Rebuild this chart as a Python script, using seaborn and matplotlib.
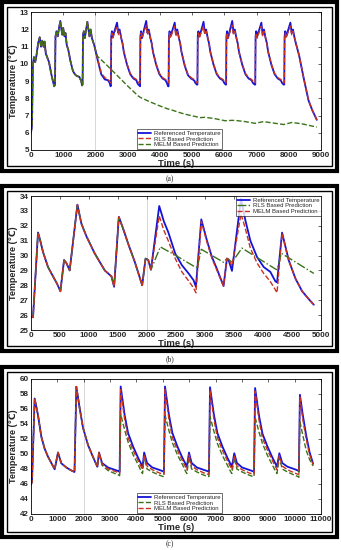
import matplotlib
matplotlib.use('Agg')
import matplotlib.pyplot as plt
from matplotlib.patches import Rectangle
import seaborn as sns

# ---------------- panel (a) ----------------
# shared start (all three curves coincide up to ~1960 s)
a_head_time = [0, 30, 60, 90, 130, 170, 220, 270, 310, 350, 390, 420, 460, 520, 560, 620, 680, 720,
               745, 760, 790, 830, 870, 910, 945, 970, 1000, 1040, 1070, 1110, 1160, 1220, 1300, 1360,
               1420, 1500, 1560, 1585, 1600, 1615, 1640, 1670, 1710, 1750, 1790, 1815, 1850, 1890, 1960]
a_head_temp = [6.0, 6.4, 10.0, 10.4, 10.1, 10.5, 11.2, 11.55, 11.0, 11.35, 11.0, 11.3, 10.6, 10.3, 10.1, 9.5, 9.0, 8.7,
               8.8, 11.6, 11.9, 11.6, 12.1, 12.5, 12.0, 11.7, 12.1, 11.6, 11.8, 11.1, 10.8, 10.2, 9.6, 9.4,
               9.3, 9.25, 9.0, 8.75, 8.8, 11.7, 11.9, 11.5, 12.0, 12.45, 11.9, 11.6, 12.0, 11.5, 11.1]

a_tail_time = [2060, 2180, 2290, 2390, 2440, 2470,
               2480, 2490, 2510, 2540, 2590, 2670, 2710, 2750, 2800, 2840, 2880, 2980, 3080, 3180, 3270, 3310, 3360,
               3385, 3395, 3415, 3445, 3495, 3575, 3615, 3655, 3705, 3745, 3785, 3885, 3985, 4085, 4175, 4215, 4255,
               4270, 4280, 4300, 4330, 4380, 4460, 4500, 4540, 4590, 4630, 4670, 4770, 4870, 4970, 5060, 5100, 5145,
               5165, 5175, 5195, 5225, 5275, 5355, 5395, 5435, 5485, 5525, 5565, 5665, 5765, 5865, 5955, 5995, 6040,
               6055, 6065, 6085, 6115, 6165, 6245, 6285, 6325, 6375, 6415, 6455, 6555, 6655, 6755, 6845, 6885, 6940,
               6960, 6970, 6990, 7020, 7070, 7150, 7190, 7230, 7280, 7320, 7360, 7460, 7560, 7660, 7750, 7790, 7840,
               7860, 7870, 7890, 7920, 7970, 8050, 8090, 8130, 8180, 8220, 8320, 8460, 8610, 8720, 8870]
a_ref_tail = [10.3, 9.4, 9.1, 9.05, 8.9, 8.7,
              8.75, 11.6, 11.9, 11.6, 11.9, 12.4, 11.8, 12.0, 11.5, 11.2, 10.7, 9.95, 9.4, 9.15, 9.05, 8.85, 8.75,
              8.7, 11.6, 11.9, 11.5, 11.9, 12.5, 11.8, 12.0, 11.5, 11.2, 10.7, 9.95, 9.4, 9.15, 9.05, 8.9, 8.7,
              8.7, 11.6, 11.9, 11.6, 11.9, 12.4, 11.7, 12.0, 11.5, 11.2, 10.7, 9.9, 9.35, 9.15, 9.05, 8.9, 8.8,
              8.8, 11.6, 11.9, 11.6, 11.9, 12.45, 11.8, 12.0, 11.5, 11.2, 10.7, 9.95, 9.4, 9.15, 9.05, 8.9, 8.8,
              8.8, 11.6, 11.9, 11.5, 11.9, 12.5, 11.8, 12.0, 11.5, 11.2, 10.7, 9.95, 9.4, 9.15, 9.05, 8.9, 8.8,
              8.8, 11.6, 11.9, 11.6, 11.9, 12.4, 11.7, 12.0, 11.5, 11.2, 10.7, 9.95, 9.4, 9.15, 9.05, 8.9, 8.8,
              8.8, 11.6, 11.9, 11.6, 11.9, 12.4, 11.8, 12.0, 11.5, 11.2, 10.5, 9.2, 7.9, 7.35, 6.75]
a_rls_tail = [10.35, 9.5, 9.2, 9.1, 9.0, 8.9,
              8.9, 11.5, 11.8, 11.5, 11.8, 12.2, 11.7, 11.9, 11.5, 11.2, 10.7, 10.0, 9.45, 9.2, 9.1, 9.0, 8.9,
              8.9, 11.5, 11.8, 11.5, 11.8, 12.25, 11.7, 11.9, 11.5, 11.2, 10.7, 10.0, 9.45, 9.2, 9.1, 9.0, 8.9,
              8.9, 11.5, 11.8, 11.5, 11.8, 12.2, 11.6, 11.9, 11.5, 11.2, 10.7, 9.95, 9.4, 9.2, 9.1, 9.0, 8.9,
              8.9, 11.5, 11.8, 11.5, 11.8, 12.2, 11.7, 11.9, 11.5, 11.2, 10.7, 10.0, 9.45, 9.2, 9.1, 9.0, 8.9,
              8.9, 11.5, 11.8, 11.5, 11.8, 12.25, 11.7, 11.9, 11.5, 11.2, 10.7, 10.0, 9.45, 9.2, 9.1, 9.0, 8.9,
              8.9, 11.5, 11.8, 11.5, 11.8, 12.2, 11.6, 11.9, 11.5, 11.2, 10.7, 10.0, 9.45, 9.2, 9.1, 9.0, 8.9,
              8.9, 11.5, 11.8, 11.5, 11.8, 12.2, 11.7, 11.9, 11.5, 11.2, 10.5, 9.2, 7.9, 7.35, 6.75]
a_melm_tail_time = [2060, 2390, 2700, 3010, 3320, 3400, 3630, 3945, 4255, 4330, 4565, 4780, 5090, 5250, 5400,
                    5710, 6025, 6200, 6335, 6645, 6955, 7215, 7580, 7840, 8100, 8410, 8870]
a_melm_tail_temp = [10.45, 9.86, 9.28, 8.7, 8.15, 8.05, 7.85, 7.6, 7.38, 7.35, 7.2, 7.08, 6.95, 6.88, 6.9,
                    6.82, 6.7, 6.72, 6.72, 6.65, 6.55, 6.65, 6.55, 6.48, 6.6, 6.52, 6.33]

# ---------------- panel (b) ----------------
b_time = [0, 35, 121, 160, 207, 293, 380, 450, 507, 570, 610, 667, 800, 869, 955, 1100, 1272, 1387, 1433, 1514,
          1589, 1675, 1790, 1917, 1975, 2022, 2068, 2211, 2290, 2366, 2487, 2602, 2717, 2803, 2843, 2936, 3034,
          3120, 3206, 3292, 3320, 3378, 3407, 3465, 3621, 3696, 3782, 3897, 4012, 4127, 4213, 4242, 4329, 4444,
          4560, 4675, 4790, 4876]
b_ref = [25.9, 25.85, 31.55, 31.0, 30.24, 29.23, 28.6, 28.1, 27.6, 29.7, 29.5, 29.0, 33.42, 32.14, 31.3, 30.13,
         29.0, 28.6, 27.9, 32.6, 31.8, 30.8, 29.57, 28.0, 29.8, 29.7, 29.05, 33.33, 32.3, 31.58, 30.13, 29.35,
         28.8, 28.34, 27.9, 32.43, 31.0, 29.9, 29.1, 28.23, 27.95, 29.8, 29.7, 28.97, 33.82, 32.37, 31.0, 29.9,
         29.23, 28.9, 28.27, 28.2, 31.54, 29.68, 28.45, 27.6, 27.07, 26.7]
b_melm = [25.9, 25.85, 31.55, 31.0, 30.24, 29.23, 28.6, 28.1, 27.6, 29.7, 29.5, 29.0, 33.42, 32.14, 31.3, 30.13,
          29.0, 28.6, 27.9, 32.6, 31.8, 30.8, 29.57, 28.0, 29.8, 29.7, 29.05, 32.66, 31.7, 31.0, 29.8, 28.9,
          28.3, 27.83, 27.5, 32.3, 30.9, 29.8, 29.0, 28.2, 27.95, 29.8, 29.75, 29.3, 32.8, 31.8, 30.5, 29.5,
          28.8, 28.25, 27.7, 27.5, 31.5, 29.65, 28.45, 27.6, 27.07, 26.7]
b_rls_time = [0, 35, 121, 160, 207, 293, 380, 450, 507, 570, 610, 667, 800, 869, 955, 1100, 1272, 1387, 1433,
              1514, 1589, 1675, 1790, 1917, 1975, 2022, 2068, 2230, 2500, 2843, 2870, 2936, 3320, 3378, 3407,
              3465, 3638, 4213, 4242, 4317, 4876]
b_rls = [25.9, 25.85, 31.55, 31.0, 30.24, 29.23, 28.6, 28.1, 27.6, 29.7, 29.5, 29.0, 33.42, 32.14, 31.3, 30.13,
         29.0, 28.6, 27.9, 32.6, 31.8, 30.8, 29.57, 28.0, 29.8, 29.7, 29.05, 30.58, 30.0, 29.2, 29.25, 30.42,
         29.55, 29.8, 29.75, 29.55, 30.5, 29.1, 29.05, 30.15, 28.8]

# ---------------- panel (c) ----------------
c_time = [0, 38, 139, 265, 392, 518, 645, 771, 898, 1024, 1150, 1340, 1530, 1650, 1720, 1846, 1973, 2163, 2352,
          2479, 2517, 2580, 2694, 2921, 3174, 3326, 3362,
          3402, 3552, 3682, 3872, 4062, 4192, 4232, 4292, 4402, 4602, 4852, 5003, 5043,
          5083, 5233, 5363, 5553, 5743, 5873, 5913, 5993, 6093, 6293, 6543, 6710, 6750,
          6790, 6940, 7070, 7260, 7450, 7580, 7620, 7710, 7810, 8010, 8260, 8420, 8460,
          8500, 8650, 8780, 8970, 9160, 9290, 9330, 9420, 9530, 9730, 9980, 10120, 10160,
          10200, 10310, 10437, 10563, 10700]
c_ref = [45.9, 46.3, 57.4, 55.2, 52.3, 50.7, 49.64, 48.8, 47.96, 50.2, 48.76, 48.2, 47.8, 47.6, 58.98, 56.1, 53.5,
         51.2, 49.6, 48.6, 48.3, 50.2, 48.8, 48.2, 47.9, 47.7, 47.6,
         59.0, 55.2, 52.8, 51.0, 49.5, 48.6, 48.3, 50.2, 48.8, 48.2, 47.9, 47.7, 47.6,
         59.0, 55.2, 52.8, 51.0, 49.5, 48.6, 48.3, 50.2, 48.8, 48.2, 47.9, 47.7, 47.6,
         58.9, 55.2, 52.8, 51.0, 49.5, 48.6, 48.3, 50.1, 48.8, 48.2, 47.9, 47.7, 47.6,
         58.8, 55.1, 52.7, 51.0, 49.5, 48.6, 48.3, 50.1, 48.8, 48.3, 48.0, 47.8, 47.7,
         57.9, 55.2, 52.5, 50.3, 48.7]
c_rls = [45.9, 46.3, 57.4, 55.2, 52.3, 50.7, 49.64, 48.8, 47.96, 50.2, 48.76, 48.2, 47.8, 47.6, 58.98, 56.1, 53.5,
         51.2, 49.6, 48.6, 48.3, 50.2, 48.5, 47.8, 47.4, 47.2, 47.1,
         55.3, 53.2, 51.6, 49.9, 48.6, 47.6, 47.4, 49.6, 48.0, 47.6, 47.2, 47.0, 47.0,
         55.2, 53.1, 51.5, 49.9, 48.6, 47.6, 47.4, 49.6, 48.0, 47.6, 47.2, 47.0, 47.0,
         55.0, 53.0, 51.4, 49.8, 48.5, 47.6, 47.4, 49.5, 48.0, 47.6, 47.2, 47.0, 47.0,
         54.9, 52.9, 51.4, 49.8, 48.5, 47.6, 47.4, 49.5, 48.0, 47.6, 47.2, 47.0, 46.9,
         54.3, 52.5, 50.5, 49.3, 48.4]
c_melm = [45.9, 46.3, 57.4, 55.2, 52.3, 50.7, 49.64, 48.8, 47.96, 50.2, 48.76, 48.2, 47.8, 47.6, 58.98, 56.1, 53.5,
          51.2, 49.6, 48.6, 48.3, 50.2, 48.7, 48.0, 47.7, 47.5, 47.4,
          58.6, 54.6, 52.2, 50.5, 49.1, 48.2, 47.9, 49.9, 48.4, 47.9, 47.5, 47.3, 47.3,
          58.6, 54.6, 52.2, 50.5, 49.1, 48.2, 47.9, 49.9, 48.4, 47.9, 47.5, 47.3, 47.3,
          58.5, 54.6, 52.2, 50.5, 49.1, 48.2, 47.9, 49.8, 48.4, 47.9, 47.5, 47.3, 47.3,
          58.4, 54.5, 52.1, 50.5, 49.1, 48.2, 47.9, 49.8, 48.4, 47.9, 47.5, 47.3, 47.3,
          57.6, 54.6, 52.0, 50.0, 48.6]

BLUE = '#1414d8'
RED = '#c8321e'
GREEN = '#3a7418'

sns.set_style('white')
plt.rcParams['font.family'] = ['Liberation Sans', 'DejaVu Sans']

W, H = 341, 550
fig = plt.figure(figsize=(W / 100, H / 100), dpi=100)


def px_axes(x0, y0, x1, y1):
    # axes from pixel box (top-left origin)
    return fig.add_axes([x0 / W, 1 - y1 / H, (x1 - x0) / W, (y1 - y0) / H])


def frame(x0, y0, x1, y1, inset=5):
    fig.add_artist(Rectangle((x0 / W, 1 - y1 / H), (x1 - x0) / W, (y1 - y0) / H,
                             transform=fig.transFigure, fill=False, ec='black', lw=3.0))
    fig.add_artist(Rectangle(((x0 + inset) / W, 1 - (y1 - inset) / H), (x1 - x0 - 2 * inset) / W,
                             (y1 - y0 - 2 * inset) / H, transform=fig.transFigure, fill=False,
                             ec='black', lw=1.0))


def style(ax, xlim, xticks, ylim, yticks):
    ax.set_xlim(*xlim)
    ax.set_ylim(*ylim)
    ax.set_xticks(xticks)
    ax.set_yticks(yticks)
    ax.axvline(2000, color='0.82', lw=0.6, zorder=0)
    ax.tick_params(direction='in', top=True, right=True, length=2, width=0.5, pad=1.5, labelsize=5.8)
    for lab in ax.get_xticklabels() + ax.get_yticklabels():
        lab.set_fontweight('bold')
    for s in ax.spines.values():
        s.set_linewidth(0.6)
        s.set_color('black')
    ax.set_xlabel('Time (s)', fontsize=6.8, fontweight='bold', labelpad=0)
    ax.set_ylabel('Temperature (\u2103)', fontsize=6.5, fontweight='bold', labelpad=1)


def legend(ax, pad=0.2, **kw):
    leg = ax.legend(fontsize=4.3, frameon=True, fancybox=False, borderpad=0.25, labelspacing=0.1,
                    handlelength=2.2, handletextpad=0.4, borderaxespad=pad, **kw)
    leg.get_frame().set_edgecolor('black')
    leg.get_frame().set_linewidth(0.5)


# panel (a)
frame(2, 2, 337, 171)
ax = px_axes(31, 12.3, 321, 150)
sns.lineplot(x=a_head_time + a_tail_time, y=a_head_temp + a_ref_tail, ax=ax, estimator=None, sort=False,
             color=BLUE, lw=1.3, label='Referenced Temperature')
sns.lineplot(x=a_head_time + a_tail_time, y=a_head_temp + a_rls_tail, ax=ax, estimator=None, sort=False,
             color=RED, lw=1.0, linestyle='--', label='RLS Based Prediction')
sns.lineplot(x=a_head_time + a_melm_tail_time, y=a_head_temp + a_melm_tail_temp, ax=ax, estimator=None,
             sort=False, color=GREEN, lw=1.0, linestyle='--', label='MELM Based Prediction')
style(ax, (0, 9000), range(0, 9001, 1000), (5, 13), range(5, 14))
legend(ax, loc='lower left', bbox_to_anchor=(0.36, 0.0))
fig.text(170 / W, 1 - 179 / H, '(a)', ha='center', va='center', fontsize=5.5, family='Liberation Serif')

# panel (b)
frame(2, 186, 337, 351)
ax = px_axes(31, 196, 321, 330)
sns.lineplot(x=b_time, y=b_ref, ax=ax, estimator=None, sort=False, color=BLUE, lw=1.3,
             label='Referenced Temperature')
sns.lineplot(x=b_rls_time, y=b_rls, ax=ax, estimator=None, sort=False, color=GREEN, lw=1.0,
             linestyle='-.', label='RLS Based Prediction')
sns.lineplot(x=b_time, y=b_melm, ax=ax, estimator=None, sort=False, color=RED, lw=1.0,
             linestyle='--', label='MELM Based Prediction')
style(ax, (0, 5000), range(0, 5001, 500), (25, 34), range(25, 35))
legend(ax, pad=0.0, loc='upper right')
fig.text(170 / W, 1 - 359 / H, '(b)', ha='center', va='center', fontsize=5.5, family='Liberation Serif')

# panel (c)
frame(2, 367, 337, 537)
ax = px_axes(31, 379, 321, 514)
sns.lineplot(x=c_time, y=c_ref, ax=ax, estimator=None, sort=False, color=BLUE, lw=1.3,
             label='Referenced Temperature')
sns.lineplot(x=c_time, y=c_rls, ax=ax, estimator=None, sort=False, color=GREEN, lw=1.0,
             linestyle='--', label='RLS Based Prediction')
sns.lineplot(x=c_time, y=c_melm, ax=ax, estimator=None, sort=False, color=RED, lw=1.0,
             linestyle='--', label='MELM Based Prediction')
style(ax, (0, 11000), range(0, 11001, 1000), (42, 60), range(42, 61, 2))
legend(ax, loc='lower left', bbox_to_anchor=(0.36, 0.0))
fig.text(170 / W, 1 - 544 / H, '(c)', ha='center', va='center', fontsize=5.5, family='Liberation Serif')

fig.savefig('out.png', dpi=100)
